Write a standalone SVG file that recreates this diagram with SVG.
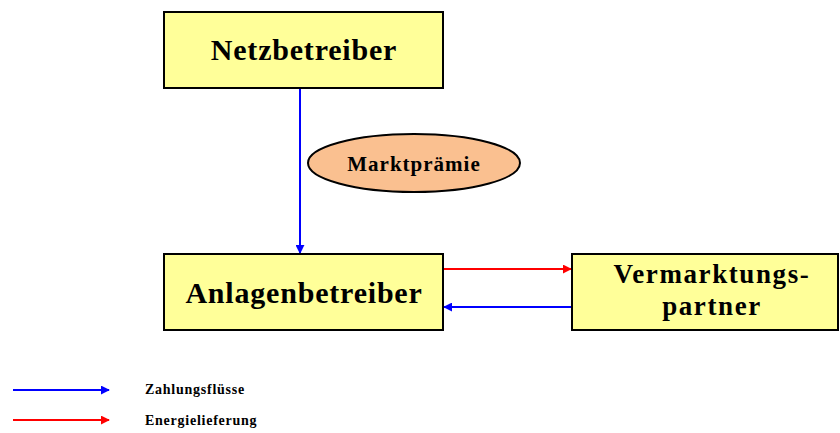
<svg xmlns="http://www.w3.org/2000/svg" width="840" height="433" viewBox="0 0 840 433">
<style>
.box{fill:#FFFF99;stroke:#000;stroke-width:2}
.t{font-family:"Liberation Serif","DejaVu Serif",serif;font-weight:bold;fill:#000;text-anchor:middle}
.big{font-size:30px;letter-spacing:0.8px}
.vp{font-size:27px;letter-spacing:1.6px}
.lg{font-family:"Liberation Serif","DejaVu Serif",serif;font-weight:bold;font-size:14px;letter-spacing:0.75px;fill:#000}
.blue{stroke:#0000FF;stroke-width:2;fill:none}
.red{stroke:#FF0000;stroke-width:2;fill:none}
</style>
<defs>
<marker id="ab" viewBox="0 0 10 10" refX="9" refY="5" markerWidth="4.5" markerHeight="4.5" orient="auto" markerUnits="strokeWidth"><path d="M0,0 L10,5 L0,10 z" fill="#0000FF"/></marker>
<marker id="ar" viewBox="0 0 10 10" refX="9" refY="5" markerWidth="4.5" markerHeight="4.5" orient="auto" markerUnits="strokeWidth"><path d="M0,0 L10,5 L0,10 z" fill="#FF0000"/></marker>
</defs>
<g id="connectors">
<line class="blue" x1="300" y1="88" x2="300" y2="253" marker-end="url(#ab)"/>
<line class="red" x1="443" y1="269" x2="571" y2="269" marker-end="url(#ar)"/>
<line class="blue" x1="572" y1="307" x2="444" y2="307" marker-end="url(#ab)"/>
</g>
<g id="netzbetreiber">
<rect class="box" x="164" y="12" width="279" height="76"/>
<text class="t big" x="304" y="60">Netzbetreiber</text>
</g>
<g id="marktpraemie">
<ellipse cx="414" cy="163" rx="106" ry="29" fill="#FAC090" stroke="#000" stroke-width="2"/>
<text class="t" x="414" y="171" font-size="21" letter-spacing="1">Marktprämie</text>
</g>
<g id="anlagenbetreiber">
<rect class="box" x="164" y="254" width="279" height="76"/>
<text class="t big" x="304" y="303">Anlagenbetreiber</text>
</g>
<g id="vermarktungspartner">
<rect class="box" x="572" y="254" width="266" height="76"/>
<text class="t vp" x="712" y="283">Vermarktungs-</text>
<text class="t vp" x="712" y="315">partner</text>
</g>
<g id="legend">
<line class="blue" x1="13" y1="390" x2="109" y2="390" marker-end="url(#ab)"/>
<text class="lg" x="145" y="394">Zahlungsflüsse</text>
<line class="red" x1="13" y1="420" x2="109" y2="420" marker-end="url(#ar)"/>
<text class="lg" x="145" y="425">Energielieferung</text>
</g>
</svg>
